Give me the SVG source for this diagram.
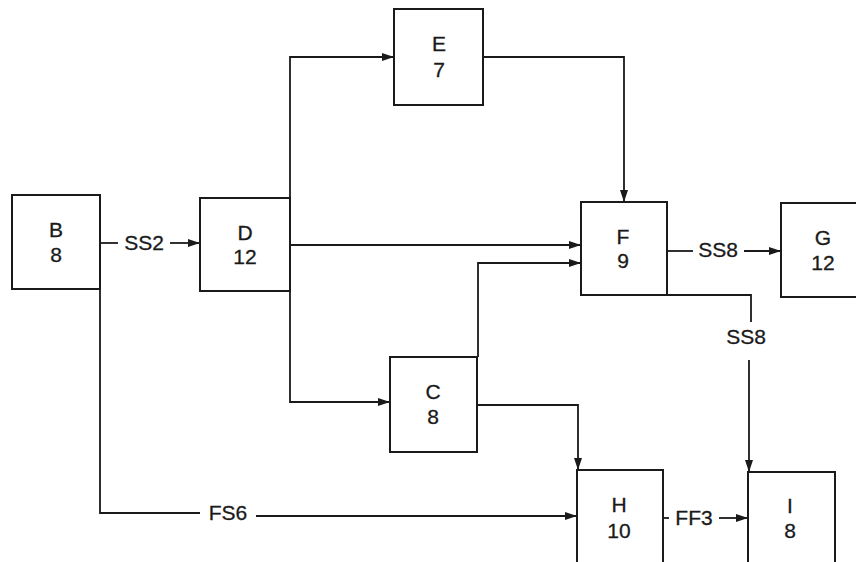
<svg xmlns="http://www.w3.org/2000/svg" width="856" height="562" viewBox="0 0 856 562">
<defs>
<marker id="arr" viewBox="0 0 12 10" refX="12" refY="5" markerWidth="12" markerHeight="10" markerUnits="userSpaceOnUse" orient="auto">
<path d="M0,1 L12,5 L0,9 Z" fill="#1a1a1a"/>
</marker>
<style>
.box{fill:#fff;stroke:#1a1a1a;stroke-width:2}
.ln{fill:none;stroke:#1a1a1a;stroke-width:1.8}
.t{font-family:"Liberation Sans",Arial,sans-serif;font-size:21px;fill:#1a1a1a;stroke:#1a1a1a;stroke-width:0.3;text-anchor:middle}
</style>
</defs>
<rect width="856" height="562" fill="#fff"/>
<g id="connectors">
<path class="ln" d="M100,243 H118"/>
<path class="ln" d="M170,243 H200" marker-end="url(#arr)"/>
<path class="ln" d="M290,198 V57 H394" marker-end="url(#arr)"/>
<path class="ln" d="M290,291 V402 H390" marker-end="url(#arr)"/>
<path class="ln" d="M290,245 H581" marker-end="url(#arr)"/>
<path class="ln" d="M483,57 H624 V202" marker-end="url(#arr)"/>
<path class="ln" d="M478,357 V263 H581" marker-end="url(#arr)"/>
<path class="ln" d="M477,405 H578 V470" marker-end="url(#arr)"/>
<path class="ln" d="M667,251 H693"/>
<path class="ln" d="M744,251 H781" marker-end="url(#arr)"/>
<path class="ln" d="M667,295 H751 V322"/>
<path class="ln" d="M749,360 V472" marker-end="url(#arr)"/>
<path class="ln" d="M100,289 V513 H200"/>
<path class="ln" d="M256,516 H577" marker-end="url(#arr)"/>
<path class="ln" d="M663,518 H669"/>
<path class="ln" d="M719,518 H748" marker-end="url(#arr)"/>
<text class="t" x="144" y="250">SS2</text>
<text class="t" x="718" y="257">SS8</text>
<text class="t" x="746" y="344">SS8</text>
<text class="t" x="228" y="520">FS6</text>
<text class="t" x="694" y="525">FF3</text>
</g>
<g id="B"><rect class="box" x="12" y="195" width="88" height="94"/><text class="t" x="56" y="237">B</text><text class="t" x="56" y="262">8</text></g>
<g id="D"><rect class="box" x="200" y="198" width="90" height="93"/><text class="t" x="245" y="240">D</text><text class="t" x="245" y="264">12</text></g>
<g id="E"><rect class="box" x="394" y="9" width="89" height="96"/><text class="t" x="439" y="51">E</text><text class="t" x="439" y="77">7</text></g>
<g id="F"><rect class="box" x="581" y="202" width="86" height="93"/><text class="t" x="623" y="244">F</text><text class="t" x="623" y="268">9</text></g>
<g id="G"><rect class="box" x="781" y="203" width="120" height="94"/><text class="t" x="823" y="245">G</text><text class="t" x="823" y="270">12</text></g>
<g id="C"><rect class="box" x="390" y="357" width="87" height="95"/><text class="t" x="433" y="399">C</text><text class="t" x="433" y="424">8</text></g>
<g id="H"><rect class="box" x="577" y="470" width="86" height="120"/><text class="t" x="619" y="512">H</text><text class="t" x="619" y="538">10</text></g>
<g id="I"><rect class="box" x="748" y="472" width="87" height="120"/><text class="t" x="790" y="513">I</text><text class="t" x="790" y="538">8</text></g>
</svg>
